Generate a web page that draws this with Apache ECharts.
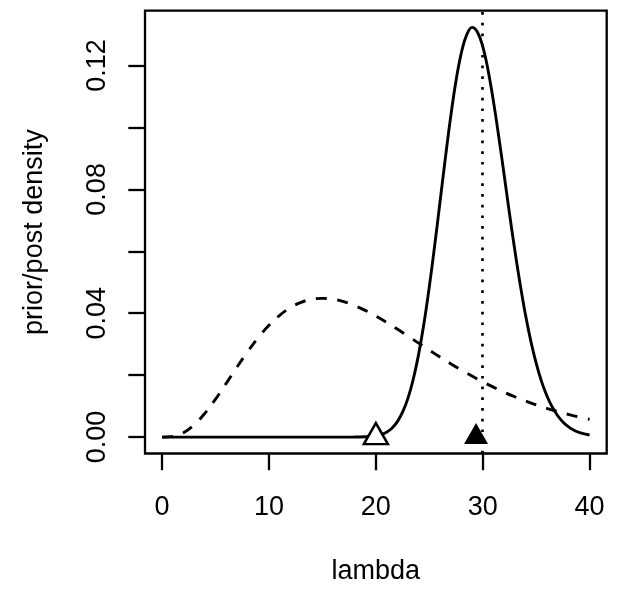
<!DOCTYPE html>
<html><head><meta charset="utf-8">
<script src="https://cdn.jsdelivr.net/npm/echarts@6/dist/echarts.min.js"></script>
<style>html,body{margin:0;padding:0;background:#fff}#c{width:622px;height:590px}</style>
</head><body><div id="c"></div><script>
// ---- data ----
const xTicks = [0, 10, 20, 30, 40];
const yTicks = [0, 0.02, 0.04, 0.06, 0.08, 0.10, 0.12];
const yTickLabels = [0, 0.04, 0.08, 0.12];

const priorX = [0,1,2,3,4,5,6,7,8,9,10,11,12,13,14,15,16,17,18,19,20,21,22,23,24,25,26,27,28,29,30,31,32,33,34,35,36,37,38,39,40];
const priorY = [0,0.00022,0.00143,0.00395,0.00767,0.01226,0.01735,0.02256,0.02757,0.03214,0.03609,0.03933,0.04181,0.04352,0.04450,0.04481,0.04453,0.04372,0.04249,0.04092,0.03908,0.03705,0.03488,0.03262,0.03034,0.02808,0.02586,0.02371,0.02165,0.01970,0.01785,0.01612,0.01452,0.01303,0.01168,0.01043,0.00929,0.00826,0.00732,0.00648,0.00573];

const postX = [0,5,10,15,16,17,18,19,19.5,20,20.5,21,21.5,22,22.5,23,23.5,24,24.5,25,25.5,26,26.5,27,27.5,28,28.5,29,29.5,30,30.5,31,31.5,32,32.5,33,33.5,34,34.5,35,35.5,36,36.5,37,37.5,38,38.5,39,39.5,40];
const postY = [0,0,0,0,0,0.000002,0.000014,0.000087,0.000197,0.000419,0.000838,0.00160,0.00287,0.00492,0.00803,0.01251,0.01867,0.02671,0.03667,0.04851,0.06173,0.07584,0.0900,0.1034,0.1151,0.1241,0.1299,0.1323,0.1308,0.1262,0.1185,0.1085,0.0970,0.0848,0.0723,0.0604,0.0494,0.0395,0.0310,0.0239,0.0180,0.01337,0.00974,0.00697,0.00490,0.00339,0.00231,0.00155,0.00102,0.00066];

const priorMean = [20, 0];
const postMean = [29.375, 0];
const mleValue = 30;

const xRange = [-1.6, 41.6];
const yRange = [-0.0053, 0.1377];

// ---- chart ----
const FONT = "'Liberation Sans', Arial, Helvetica, sans-serif";
const FS = 27;
const zip = (a, b) => a.map((v, i) => [v, b[i]]);
const chart = echarts.init(document.getElementById('c'), null, {renderer: 'canvas'});
chart.setOption({
  animation: false,
  backgroundColor: '#fff',
  grid: {left: 145, right: 15.3, top: 10.7, bottom: 133.3, show: true,
         borderColor: '#000', borderWidth: 2.3, backgroundColor: 'transparent'},
  xAxis: {
    type: 'value', min: xRange[0], max: xRange[1],
    splitLine: {show: false},
    axisLine: {show: false, onZero: false},
    axisTick: {show: true, inside: false, customValues: xTicks, length: 16.7, lineStyle: {color: '#000', width: 2.3}},
    axisLabel: {customValues: xTicks, margin: 40.5, fontSize: FS, color: '#000', fontFamily: FONT},
    name: 'lambda', nameLocation: 'middle', nameGap: 104.5,
    nameTextStyle: {fontSize: FS, color: '#000', fontFamily: FONT}
  },
  yAxis: {
    type: 'value', min: yRange[0], max: yRange[1],
    splitLine: {show: false},
    axisLine: {show: false, onZero: false},
    axisTick: {show: true, inside: false, customValues: yTicks, length: 16.7, lineStyle: {color: '#000', width: 2.3}},
    axisLabel: {customValues: yTickLabels, rotate: 90, margin: 33.5, fontSize: FS, color: '#000', fontFamily: FONT,
                formatter: v => v.toFixed(2)},
    name: 'prior/post density', nameLocation: 'middle', nameGap: 96.5, nameRotate: 90,
    nameTextStyle: {fontSize: FS, color: '#000', fontFamily: FONT}
  },
  series: [
    {type: 'line', name: 'posterior', data: zip(postX, postY), showSymbol: false, smooth: 0.4,
     lineStyle: {color: '#000', width: 2.9}, z: 3,
     markLine: {silent: true, symbol: ['none', 'none'], label: {show: false},
       lineStyle: {color: '#000', width: 2.7, type: [2.7, 8], cap: 'butt'},
       data: [{xAxis: mleValue}]}},
    {type: 'line', name: 'prior', data: zip(priorX, priorY), showSymbol: false, smooth: 0.4,
     lineStyle: {color: '#000', width: 2.9, type: [11, 10.5]}, z: 2},
    {type: 'scatter', name: 'prior mean', data: [priorMean], symbol: 'triangle',
     symbolSize: [24, 21], symbolOffset: [0, -3.5],
     itemStyle: {color: '#fff', borderColor: '#000', borderWidth: 2.5, opacity: 1}, z: 5},
    {type: 'scatter', name: 'posterior mean', data: [postMean], symbol: 'triangle',
     symbolSize: [24, 21], symbolOffset: [0, -3.5],
     itemStyle: {color: '#000', opacity: 1}, z: 5}
  ]
});
</script></body></html>
